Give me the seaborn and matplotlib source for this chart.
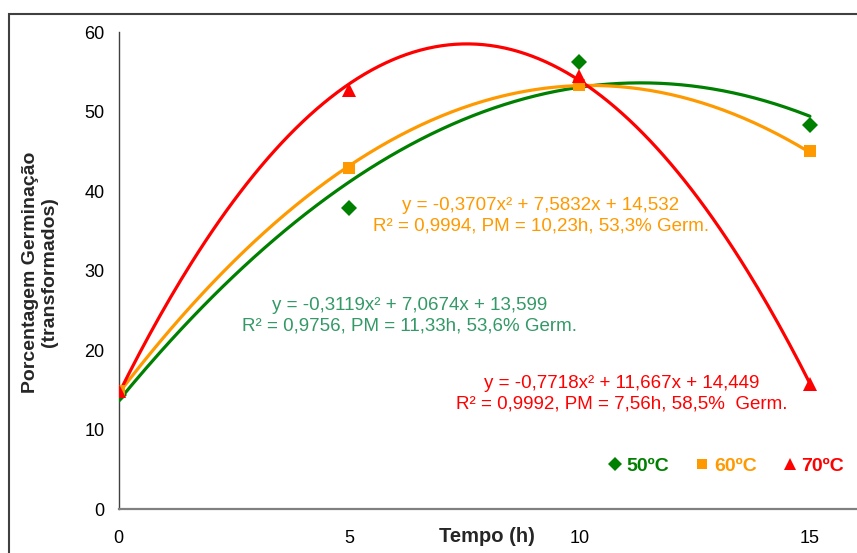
import numpy as np
import pandas as pd
import matplotlib
matplotlib.use("Agg")
import matplotlib.pyplot as plt
from matplotlib.patches import Rectangle
from matplotlib.lines import Line2D
import seaborn as sns

# ---- data ----
tempo = [0, 5, 10, 15]
germ_50 = [14.3, 37.9, 56.2, 48.3]
germ_60 = [14.85, 42.9, 53.4, 45.0]
germ_70 = [14.8, 52.8, 54.5, 15.7]

# fitted quadratic trendlines (coefficients as printed on the chart)
coef_50 = [-0.3119, 7.0674, 13.599]
coef_60 = [-0.3707, 7.5832, 14.532]
coef_70 = [-0.7718, 11.667, 14.449]

series = ["50ºC", "60ºC", "70ºC"]
eq_lines = [
    "y = -0,3119x² + 7,0674x + 13,599\nR² = 0,9756, PM = 11,33h, 53,6% Germ.",
    "y = -0,3707x² + 7,5832x + 14,532\nR² = 0,9994, PM = 10,23h, 53,3% Germ.",
    "y = -0,7718x² + 11,667x + 14,449\nR² = 0,9992, PM = 7,56h, 58,5%  Germ.",
]
xticks = [0, 5, 10, 15]
yticks = [0, 10, 20, 30, 40, 50, 60]

colors = {"50ºC": "#008000", "60ºC": "#FF9900", "70ºC": "#FF0000"}
eq_colors = ["#339966", "#FF9900", "#FF0000"]
markers = {"50ºC": "D", "60ºC": "s", "70ºC": "^"}
msize = {"50ºC": 8.5, "60ºC": 8.5, "70ºC": 10}

pts = pd.DataFrame({
    "Tempo": tempo * 3,
    "Germ": germ_50 + germ_60 + germ_70,
    "Serie": [series[0]] * 4 + [series[1]] * 4 + [series[2]] * 4,
})
xs = np.linspace(0, 15, 200)
curves = pd.DataFrame({
    "Tempo": np.concatenate([xs, xs, xs]),
    "Germ": np.concatenate([np.polyval(c, xs) for c in (coef_50, coef_60, coef_70)]),
    "Serie": np.repeat(series, len(xs)),
})

sns.set_style("white")
plt.rcParams["font.family"] = ["Liberation Sans", "DejaVu Sans"]

fig = plt.figure(figsize=(8.57, 5.53), dpi=100)
ax = fig.add_axes([118.5 / 857, 1 - 509 / 553, (856 - 118.5) / 857, (509 - 32.3) / 553])

sns.lineplot(data=curves, x="Tempo", y="Germ", hue="Serie", palette=colors,
             linewidth=2.3, ax=ax, legend=False, sort=False, zorder=2)
for s in series:
    sub = pts[pts["Serie"] == s]
    ax.plot(sub["Tempo"], sub["Germ"], linestyle="none", marker=markers[s],
            markersize=msize[s], color=colors[s], markeredgewidth=0, zorder=3)

ax.set_xlim(0, 16)
ax.set_ylim(0, 60)
ax.set_xticks(xticks)
ax.set_yticks(yticks)
ax.tick_params(axis="both", direction="out", length=4, width=1, color="#555555",
               labelsize=13, labelcolor="black")
ax.tick_params(axis="y", pad=6)
ax.tick_params(axis="x", pad=11)
for side in ("top", "right"):
    ax.spines[side].set_visible(False)
ax.spines["left"].set_color("#404040")
ax.spines["left"].set_linewidth(1.0)
ax.spines["bottom"].set_color("#808080")
ax.spines["bottom"].set_linewidth(1.6)

ax.set_xlabel("")
ax.set_ylabel("")
fig.text(487 / 857, 1 - 537 / 553, "Tempo (h)", ha="center", va="center",
         fontsize=14.5, fontweight="bold")
fig.text(40 / 857, 1 - 272 / 553, "Porcentagem Germinação\n(transformados)",
         ha="center", va="center", rotation=90, fontsize=14, fontweight="bold",
         linespacing=1.15)

# equation annotations (axes data positions)
eq_pos = [(410, 316), (541, 216), (622, 394)]
for (px, py), txt, c in zip(eq_pos, eq_lines, eq_colors):
    fig.text(px / 857, 1 - py / 553, txt, ha="center", va="center",
             fontsize=13.5, color=c, linespacing=1.3)

# legend
handles = [Line2D([], [], linestyle="none", marker=markers[s], color=colors[s],
                  markersize=msize[s] * 0.85, markeredgewidth=0) for s in series]
leg = ax.legend(handles, series, loc="center", bbox_to_anchor=(0.822, 0.09),
                ncol=3, frameon=False, handletextpad=0.1, columnspacing=1.2,
                handlelength=1.0, prop={"weight": "bold", "size": 14})
for t, s in zip(leg.get_texts(), series):
    t.set_color(colors[s])

# outer chart-area frame
fig.patches.append(Rectangle((9 / 857, -0.2), 1.2, 1.2 - 14 / 553,
                             transform=fig.transFigure, fill=False,
                             edgecolor="#404040", linewidth=1.5, zorder=0))

fig.savefig("out.png", dpi=100)
